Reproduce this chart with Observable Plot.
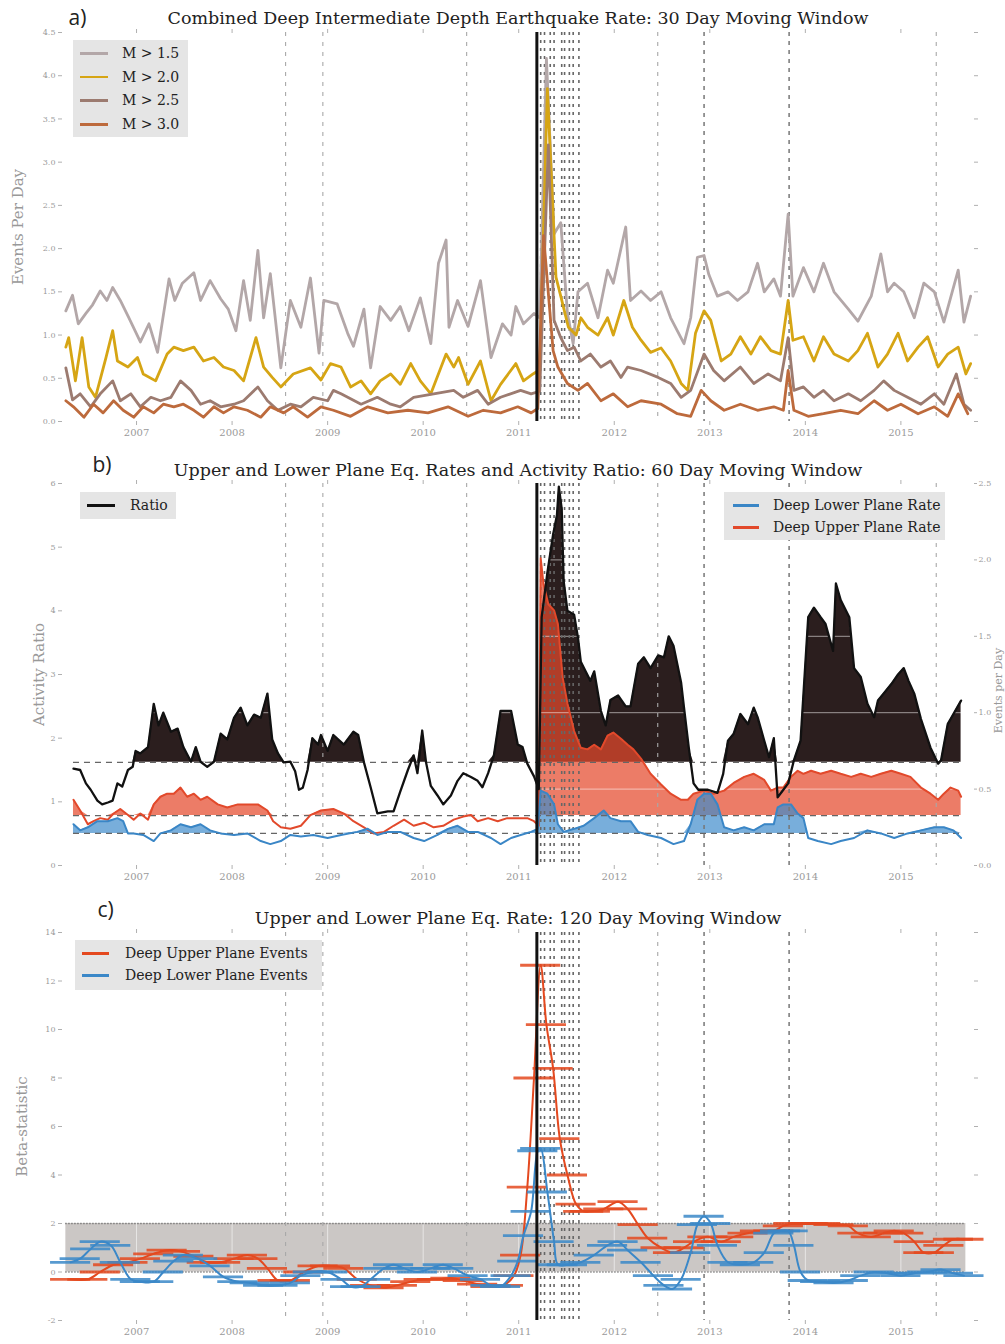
<!DOCTYPE html>
<html><head><meta charset="utf-8">
<script src="https://cdn.jsdelivr.net/npm/d3@7"></script>
<script src="https://cdn.jsdelivr.net/npm/@observablehq/plot@0.6"></script>
<style>
body{margin:0;background:#fff;}
#wrap{position:relative;width:1005px;height:1344px;overflow:hidden;}
.pnl{position:absolute;left:0;}
.legend{position:absolute;background:#e5e5e5;font-family:"DejaVu Serif",serif;font-size:14px;color:#222;z-index:5;}
.legend .row{position:absolute;left:0;height:20px;margin-top:-10px;width:100%;}
.legend .sw{position:absolute;top:9px;height:2.6px;}
.legend .tx{position:absolute;top:0px;white-space:nowrap;line-height:20px;}
</style></head>
<body><div id="wrap"></div>
<script>
// ---------- shared ----------
const xDomain = [2006.225, 2015.76];
const yearTicks = [2007, 2008, 2009, 2010, 2011, 2012, 2013, 2014, 2015];
const mainshock = [2011.19];
const lightEvents = [2008.56, 2008.95, 2010.455, 2012.455, 2015.37];
const darkEvents = [2012.94, 2013.83];
const clusterEvents = [2011.23, 2011.27, 2011.33, 2011.37, 2011.45, 2011.48, 2011.53, 2011.57, 2011.63];

// ---------- panel a: 30 day rates (events per day) ----------
const titleA = "Combined Deep Intermediate Depth Earthquake Rate: 30 Day Moving Window";
const m15 = [[2006.26,1.28],[2006.33,1.46],[2006.39,1.13],[2006.47,1.25],[2006.54,1.35],[2006.62,1.51],[2006.69,1.40],[2006.75,1.55],[2006.83,1.40],[2006.92,1.20],[2007.04,0.92],[2007.13,1.13],[2007.22,0.80],[2007.34,1.65],[2007.40,1.40],[2007.48,1.60],[2007.60,1.72],[2007.67,1.40],[2007.77,1.63],[2007.88,1.42],[2007.96,1.30],[2008.04,1.05],[2008.12,1.63],[2008.19,1.17],[2008.27,1.98],[2008.33,1.20],[2008.40,1.71],[2008.51,0.62],[2008.61,1.40],[2008.72,1.09],[2008.82,1.66],[2008.91,0.79],[2008.96,1.40],[2009.10,1.36],[2009.21,1.02],[2009.27,0.87],[2009.38,1.30],[2009.45,0.62],[2009.55,1.33],[2009.66,1.17],[2009.76,1.33],[2009.85,1.05],[2009.97,1.43],[2010.08,0.90],[2010.16,1.83],[2010.24,2.10],[2010.27,1.09],[2010.36,1.40],[2010.47,1.10],[2010.60,1.63],[2010.71,0.74],[2010.83,1.13],[2010.92,1.00],[2010.97,1.33],[2011.05,1.13],[2011.16,1.25],[2011.22,1.20],[2011.29,4.20],[2011.37,2.17],[2011.44,2.30],[2011.51,1.25],[2011.57,0.90],[2011.62,1.50],[2011.72,1.60],[2011.83,1.20],[2011.93,1.75],[2011.99,1.60],[2012.12,2.25],[2012.17,1.40],[2012.28,1.51],[2012.38,1.40],[2012.49,1.50],[2012.59,1.20],[2012.73,0.90],[2012.80,1.20],[2012.87,1.90],[2012.94,1.92],[2012.99,1.70],[2013.08,1.45],[2013.19,1.50],[2013.29,1.40],[2013.40,1.50],[2013.50,1.83],[2013.57,1.50],[2013.67,1.65],[2013.74,1.45],[2013.82,2.40],[2013.87,1.45],[2013.98,1.78],[2014.09,1.50],[2014.19,1.83],[2014.30,1.50],[2014.45,1.30],[2014.55,1.16],[2014.69,1.45],[2014.79,1.94],[2014.86,1.50],[2014.93,1.60],[2015.03,1.50],[2015.14,1.20],[2015.24,1.60],[2015.35,1.50],[2015.45,1.15],[2015.60,1.75],[2015.66,1.15],[2015.73,1.45]];
const m20 = [[2006.26,0.86],[2006.29,0.97],[2006.36,0.47],[2006.43,0.97],[2006.50,0.40],[2006.57,0.28],[2006.68,0.74],[2006.75,1.05],[2006.80,0.70],[2006.91,0.63],[2007.01,0.74],[2007.07,0.55],[2007.20,0.47],[2007.32,0.78],[2007.39,0.86],[2007.49,0.82],[2007.60,0.86],[2007.70,0.70],[2007.81,0.74],[2007.91,0.63],[2008.02,0.59],[2008.12,0.47],[2008.25,0.97],[2008.33,0.63],[2008.42,0.51],[2008.51,0.40],[2008.64,0.55],[2008.82,0.62],[2008.93,0.48],[2009.03,0.67],[2009.14,0.63],[2009.24,0.40],[2009.35,0.47],[2009.45,0.32],[2009.55,0.47],[2009.66,0.55],[2009.76,0.43],[2009.87,0.67],[2009.97,0.47],[2010.08,0.32],[2010.24,0.78],[2010.32,0.63],[2010.37,0.74],[2010.47,0.43],[2010.60,0.70],[2010.71,0.24],[2010.81,0.43],[2010.97,0.67],[2011.05,0.47],[2011.15,0.55],[2011.22,0.60],[2011.30,3.85],[2011.39,1.67],[2011.44,1.45],[2011.52,1.09],[2011.60,1.00],[2011.65,1.20],[2011.72,1.09],[2011.83,1.00],[2011.93,1.20],[2011.99,1.00],[2012.10,1.40],[2012.19,1.09],[2012.28,0.94],[2012.38,0.80],[2012.49,0.85],[2012.59,0.70],[2012.70,0.44],[2012.77,0.36],[2012.85,1.02],[2012.94,1.28],[2013.01,1.17],[2013.12,0.70],[2013.22,0.78],[2013.32,0.98],[2013.43,0.78],[2013.53,0.98],[2013.64,0.82],[2013.74,0.78],[2013.82,1.40],[2013.87,0.94],[2013.98,0.98],[2014.09,0.70],[2014.19,0.98],[2014.30,0.78],[2014.45,0.70],[2014.55,0.82],[2014.65,1.02],[2014.76,0.63],[2014.86,0.78],[2014.97,1.02],[2015.07,0.70],[2015.18,0.86],[2015.28,0.98],[2015.39,0.63],[2015.49,0.78],[2015.60,0.86],[2015.68,0.55],[2015.73,0.67]];
const m25 = [[2006.26,0.62],[2006.33,0.25],[2006.41,0.32],[2006.52,0.17],[2006.62,0.32],[2006.75,0.47],[2006.83,0.24],[2006.94,0.32],[2007.04,0.17],[2007.15,0.28],[2007.25,0.24],[2007.36,0.28],[2007.46,0.47],[2007.57,0.36],[2007.67,0.20],[2007.77,0.24],[2007.88,0.17],[2008.02,0.20],[2008.12,0.24],[2008.27,0.40],[2008.37,0.24],[2008.48,0.13],[2008.61,0.20],[2008.72,0.17],[2008.85,0.28],[2009.00,0.24],[2009.06,0.36],[2009.14,0.32],[2009.35,0.20],[2009.52,0.28],[2009.66,0.20],[2009.76,0.17],[2009.90,0.28],[2010.11,0.32],[2010.32,0.36],[2010.42,0.28],[2010.57,0.36],[2010.68,0.20],[2010.81,0.28],[2011.02,0.36],[2011.13,0.32],[2011.22,0.35],[2011.31,3.20],[2011.37,1.17],[2011.44,0.97],[2011.51,0.82],[2011.58,0.86],[2011.65,0.70],[2011.75,0.78],[2011.86,0.63],[2011.96,0.70],[2012.07,0.51],[2012.14,0.63],[2012.28,0.59],[2012.46,0.51],[2012.59,0.44],[2012.70,0.28],[2012.80,0.36],[2012.94,0.78],[2013.04,0.59],[2013.15,0.47],[2013.32,0.63],[2013.46,0.44],[2013.61,0.55],[2013.74,0.47],[2013.82,0.97],[2013.88,0.36],[2013.98,0.40],[2014.09,0.28],[2014.19,0.36],[2014.30,0.24],[2014.45,0.32],[2014.58,0.24],[2014.72,0.36],[2014.82,0.47],[2014.93,0.36],[2015.07,0.28],[2015.21,0.20],[2015.35,0.32],[2015.45,0.20],[2015.58,0.55],[2015.66,0.20],[2015.73,0.13]];
const m30 = [[2006.26,0.24],[2006.34,0.17],[2006.45,0.05],[2006.55,0.20],[2006.65,0.10],[2006.76,0.24],[2006.86,0.13],[2006.97,0.05],[2007.07,0.17],[2007.18,0.10],[2007.28,0.20],[2007.39,0.17],[2007.49,0.20],[2007.60,0.13],[2007.70,0.05],[2007.81,0.17],[2007.91,0.10],[2008.02,0.17],[2008.16,0.13],[2008.30,0.05],[2008.40,0.17],[2008.54,0.10],[2008.64,0.17],[2008.79,0.05],[2008.93,0.17],[2009.06,0.13],[2009.24,0.06],[2009.42,0.17],[2009.63,0.10],[2009.84,0.13],[2010.05,0.10],[2010.26,0.17],[2010.47,0.06],[2010.63,0.13],[2010.81,0.10],[2010.99,0.17],[2011.13,0.10],[2011.20,0.15],[2011.26,2.15],[2011.36,0.82],[2011.41,0.63],[2011.51,0.44],[2011.62,0.36],[2011.72,0.44],[2011.86,0.24],[2011.99,0.32],[2012.14,0.17],[2012.28,0.24],[2012.49,0.20],[2012.66,0.09],[2012.80,0.06],[2012.91,0.36],[2013.01,0.24],[2013.15,0.13],[2013.32,0.20],[2013.50,0.13],[2013.67,0.17],[2013.77,0.13],[2013.82,0.59],[2013.88,0.13],[2014.03,0.06],[2014.19,0.09],[2014.37,0.13],[2014.55,0.09],[2014.72,0.24],[2014.86,0.13],[2015.00,0.20],[2015.18,0.09],[2015.35,0.17],[2015.49,0.06],[2015.60,0.32],[2015.70,0.09]];
const magLabels = ["M > 1.5", "M > 2.0", "M > 2.5", "M > 3.0"];
const magColors = ["#b3a7a8", "#d6a514", "#9c7b70", "#bd6a3c"];

// ---------- panel b: 60 day ratio and plane rates ----------
const titleB = "Upper and Lower Plane Eq. Rates and Activity Ratio: 60 Day Moving Window";
const ratioBase = 1.62, upperBase = 0.327, lowerBase = 0.21;
const ratio = [[2006.34,1.52],[2006.41,1.50],[2006.47,1.29],[2006.52,1.19],[2006.59,1.02],[2006.64,0.96],[2006.70,0.99],[2006.75,1.02],[2006.80,1.29],[2006.85,1.24],[2006.91,1.50],[2006.96,1.55],[2006.99,1.80],[2007.04,1.76],[2007.12,1.86],[2007.18,2.54],[2007.23,2.20],[2007.28,2.40],[2007.36,2.10],[2007.43,2.15],[2007.49,1.86],[2007.57,1.63],[2007.62,1.86],[2007.67,1.63],[2007.74,1.55],[2007.81,1.63],[2007.88,2.07],[2007.95,1.98],[2008.02,2.32],[2008.09,2.48],[2008.16,2.20],[2008.23,2.37],[2008.30,2.32],[2008.37,2.70],[2008.42,1.98],[2008.48,1.76],[2008.54,1.62],[2008.61,1.63],[2008.66,1.48],[2008.70,1.19],[2008.74,1.22],[2008.79,1.50],[2008.84,2.00],[2008.90,1.90],[2008.93,2.05],[2009.00,1.80],[2009.06,2.05],[2009.17,1.90],[2009.27,2.10],[2009.32,2.05],[2009.38,1.62],[2009.45,1.23],[2009.52,0.82],[2009.63,0.85],[2009.69,0.85],[2009.76,1.16],[2009.84,1.50],[2009.90,1.73],[2009.94,1.45],[2009.99,2.12],[2010.03,1.62],[2010.08,1.25],[2010.15,1.10],[2010.21,0.96],[2010.29,1.10],[2010.36,1.33],[2010.42,1.45],[2010.50,1.39],[2010.57,1.33],[2010.62,1.23],[2010.68,1.45],[2010.74,1.73],[2010.81,2.43],[2010.92,2.43],[2010.99,1.90],[2011.04,1.86],[2011.09,1.60],[2011.16,1.40],[2011.21,1.20],[2011.24,3.90],[2011.30,4.60],[2011.36,5.20],[2011.40,5.50],[2011.42,5.95],[2011.45,5.60],[2011.47,4.47],[2011.51,4.00],[2011.58,3.94],[2011.62,3.58],[2011.65,3.20],[2011.70,3.05],[2011.75,2.90],[2011.79,3.05],[2011.86,2.43],[2011.91,2.20],[2011.96,2.60],[2012.04,2.67],[2012.12,2.50],[2012.17,2.50],[2012.25,3.17],[2012.31,3.27],[2012.38,3.10],[2012.46,3.30],[2012.52,3.27],[2012.57,3.60],[2012.62,3.45],[2012.70,2.87],[2012.73,2.48],[2012.78,1.85],[2012.83,1.29],[2012.88,1.19],[2012.98,1.19],[2013.08,1.14],[2013.14,1.44],[2013.19,1.96],[2013.25,2.07],[2013.32,2.38],[2013.40,2.22],[2013.46,2.48],[2013.50,2.33],[2013.57,1.96],[2013.62,1.70],[2013.67,2.00],[2013.71,1.07],[2013.76,1.17],[2013.82,1.29],[2013.88,1.65],[2013.95,1.96],[2014.03,3.90],[2014.09,4.05],[2014.16,3.90],[2014.21,3.80],[2014.29,3.37],[2014.32,4.43],[2014.37,4.17],[2014.46,3.90],[2014.51,3.10],[2014.58,2.96],[2014.65,2.54],[2014.72,2.33],[2014.76,2.59],[2014.82,2.70],[2014.90,2.85],[2014.97,3.00],[2015.03,3.10],[2015.08,2.90],[2015.14,2.70],[2015.21,2.30],[2015.31,1.85],[2015.39,1.60],[2015.42,1.65],[2015.49,2.22],[2015.55,2.38],[2015.63,2.59]];
const upperRate = [[2006.34,0.43],[2006.41,0.36],[2006.49,0.27],[2006.55,0.29],[2006.62,0.31],[2006.70,0.30],[2006.76,0.34],[2006.83,0.37],[2006.91,0.33],[2006.97,0.30],[2007.04,0.34],[2007.12,0.30],[2007.18,0.40],[2007.25,0.45],[2007.32,0.47],[2007.39,0.47],[2007.46,0.51],[2007.53,0.45],[2007.60,0.47],[2007.67,0.43],[2007.74,0.45],[2007.85,0.40],[2007.95,0.38],[2008.06,0.40],[2008.16,0.40],[2008.27,0.40],[2008.37,0.36],[2008.43,0.29],[2008.51,0.25],[2008.61,0.24],[2008.72,0.26],[2008.82,0.33],[2008.93,0.36],[2009.06,0.37],[2009.17,0.34],[2009.27,0.29],[2009.38,0.25],[2009.48,0.21],[2009.59,0.22],[2009.69,0.26],[2009.80,0.30],[2009.90,0.26],[2010.01,0.28],[2010.11,0.25],[2010.21,0.26],[2010.32,0.30],[2010.42,0.32],[2010.50,0.33],[2010.57,0.29],[2010.68,0.31],[2010.78,0.29],[2010.88,0.31],[2010.99,0.31],[2011.09,0.31],[2011.16,0.29],[2011.21,0.26],[2011.23,2.01],[2011.26,1.84],[2011.31,1.71],[2011.37,1.67],[2011.41,1.58],[2011.46,1.23],[2011.51,1.06],[2011.58,0.88],[2011.65,0.77],[2011.72,0.76],[2011.79,0.79],[2011.86,0.76],[2011.93,0.85],[2011.99,0.87],[2012.07,0.83],[2012.14,0.79],[2012.20,0.76],[2012.28,0.70],[2012.38,0.60],[2012.49,0.53],[2012.59,0.47],[2012.70,0.43],[2012.77,0.43],[2012.83,0.47],[2012.94,0.49],[2013.04,0.47],[2013.15,0.49],[2013.25,0.54],[2013.36,0.58],[2013.46,0.60],[2013.57,0.56],[2013.64,0.49],[2013.71,0.51],[2013.77,0.51],[2013.85,0.58],[2013.92,0.62],[2013.98,0.60],[2014.06,0.62],[2014.16,0.60],[2014.27,0.62],[2014.37,0.60],[2014.48,0.58],[2014.58,0.60],[2014.69,0.58],[2014.79,0.60],[2014.90,0.62],[2015.00,0.60],[2015.10,0.58],[2015.21,0.51],[2015.31,0.47],[2015.39,0.43],[2015.45,0.47],[2015.52,0.51],[2015.60,0.49],[2015.63,0.45]];
const lowerRate = [[2006.34,0.27],[2006.41,0.23],[2006.49,0.25],[2006.59,0.29],[2006.70,0.29],[2006.80,0.31],[2006.86,0.29],[2006.91,0.21],[2006.97,0.21],[2007.07,0.20],[2007.18,0.16],[2007.25,0.21],[2007.36,0.23],[2007.46,0.27],[2007.57,0.25],[2007.67,0.27],[2007.77,0.23],[2007.88,0.21],[2008.02,0.20],[2008.16,0.21],[2008.30,0.16],[2008.40,0.14],[2008.51,0.16],[2008.61,0.20],[2008.72,0.19],[2008.85,0.20],[2009.00,0.18],[2009.14,0.20],[2009.31,0.22],[2009.42,0.24],[2009.52,0.20],[2009.63,0.22],[2009.76,0.22],[2009.90,0.18],[2010.01,0.16],[2010.15,0.20],[2010.26,0.24],[2010.36,0.26],[2010.47,0.22],[2010.57,0.22],[2010.71,0.18],[2010.81,0.14],[2010.92,0.18],[2011.02,0.20],[2011.13,0.22],[2011.20,0.24],[2011.23,0.49],[2011.30,0.47],[2011.37,0.40],[2011.41,0.27],[2011.47,0.22],[2011.58,0.24],[2011.68,0.26],[2011.79,0.31],[2011.89,0.36],[2011.96,0.31],[2012.07,0.29],[2012.17,0.29],[2012.25,0.22],[2012.35,0.20],[2012.49,0.18],[2012.62,0.14],[2012.73,0.16],[2012.80,0.27],[2012.87,0.43],[2012.94,0.47],[2013.01,0.47],[2013.08,0.40],[2013.15,0.25],[2013.25,0.23],[2013.36,0.25],[2013.46,0.23],[2013.57,0.27],[2013.67,0.27],[2013.71,0.38],[2013.77,0.40],[2013.85,0.40],[2013.92,0.34],[2013.98,0.31],[2014.03,0.18],[2014.13,0.16],[2014.27,0.14],[2014.37,0.16],[2014.51,0.18],[2014.65,0.23],[2014.79,0.21],[2014.93,0.18],[2015.07,0.21],[2015.21,0.23],[2015.35,0.25],[2015.45,0.25],[2015.55,0.23],[2015.63,0.18]];
const leftTicksB = [0, 1, 2, 3, 4, 5, 6];
const rightTicksB = [0, 0.5, 1.0, 1.5, 2.0, 2.5];

// ---------- panel c: 120 day beta statistic ----------
const titleC = "Upper and Lower Plane Eq. Rate: 120 Day Moving Window";
const betaUpper = [[2006.31,-0.30],[2006.49,-0.30],[2006.62,0.00],[2006.76,0.30],[2006.91,0.40],[2007.04,0.55],[2007.18,0.75],[2007.32,0.90],[2007.46,0.85],[2007.60,0.65],[2007.74,0.40],[2007.88,0.40],[2008.02,0.55],[2008.16,0.70],[2008.27,0.55],[2008.37,0.15],[2008.48,-0.35],[2008.61,-0.35],[2008.75,0.00],[2008.90,0.25],[2009.03,0.25],[2009.17,0.15],[2009.31,-0.30],[2009.45,-0.55],[2009.59,-0.65],[2009.73,-0.55],[2009.87,-0.40],[2010.01,-0.30],[2010.15,-0.30],[2010.29,-0.25],[2010.42,-0.35],[2010.57,-0.50],[2010.71,-0.60],[2010.84,-0.55],[2010.95,-0.15],[2011.02,0.70],[2011.09,3.50],[2011.16,8.00],[2011.23,12.65],[2011.29,10.20],[2011.36,8.40],[2011.43,5.50],[2011.51,4.00],[2011.60,2.80],[2011.68,2.50],[2011.75,2.50],[2011.89,2.60],[2012.04,2.90],[2012.14,2.60],[2012.25,1.95],[2012.35,1.40],[2012.49,1.00],[2012.62,0.80],[2012.73,1.00],[2012.83,1.25],[2012.98,1.45],[2013.12,1.25],[2013.25,1.45],[2013.40,1.60],[2013.53,1.70],[2013.67,1.70],[2013.77,1.90],[2013.88,2.00],[2014.03,2.00],[2014.16,2.00],[2014.30,1.95],[2014.45,1.90],[2014.55,1.60],[2014.69,1.45],[2014.82,1.60],[2014.93,1.70],[2015.03,1.60],[2015.14,1.25],[2015.24,0.80],[2015.35,0.80],[2015.45,1.10],[2015.55,1.35],[2015.66,1.35]];
const betaLower = [[2006.31,0.40],[2006.41,0.55],[2006.52,0.95],[2006.62,1.25],[2006.73,1.10],[2006.83,0.40],[2006.94,-0.30],[2007.04,-0.40],[2007.18,-0.40],[2007.28,0.00],[2007.39,0.45],[2007.49,0.70],[2007.64,0.55],[2007.77,0.25],[2007.91,-0.20],[2008.06,-0.40],[2008.19,-0.45],[2008.33,-0.55],[2008.48,-0.55],[2008.61,-0.45],[2008.72,-0.15],[2008.85,0.00],[2009.00,0.00],[2009.14,-0.30],[2009.24,-0.60],[2009.35,-0.60],[2009.45,-0.30],[2009.59,0.15],[2009.69,0.30],[2009.80,0.15],[2009.94,0.00],[2010.08,0.15],[2010.21,0.30],[2010.32,0.15],[2010.47,-0.15],[2010.60,-0.30],[2010.71,-0.55],[2010.81,-0.60],[2010.92,-0.15],[2010.99,0.45],[2011.05,1.50],[2011.13,2.50],[2011.20,5.00],[2011.23,5.10],[2011.30,3.30],[2011.37,1.25],[2011.41,0.30],[2011.51,0.30],[2011.65,0.40],[2011.79,0.70],[2011.93,1.10],[2012.04,1.25],[2012.14,0.90],[2012.28,0.40],[2012.41,-0.15],[2012.52,-0.55],[2012.61,-0.70],[2012.70,-0.30],[2012.80,0.80],[2012.87,1.95],[2012.94,2.30],[2013.01,2.00],[2013.08,1.10],[2013.19,0.40],[2013.32,0.30],[2013.46,0.40],[2013.57,0.80],[2013.67,1.60],[2013.74,1.70],[2013.82,1.70],[2013.88,1.10],[2013.95,0.00],[2014.03,-0.35],[2014.16,-0.40],[2014.30,-0.45],[2014.45,-0.35],[2014.58,-0.15],[2014.72,0.00],[2014.86,-0.05],[2015.00,-0.15],[2015.14,-0.05],[2015.28,0.00],[2015.42,0.10],[2015.55,-0.05],[2015.66,-0.15]];
const betaBand = [0, 2];
const betaTicks = [-2, 0, 2, 4, 6, 8, 10, 12, 14];
const windowHalf = 0.21; // half width of each window bar, in years

// ---------- helpers ----------
const W = 1005, ML = 62, MR = 32;
const tickStyle = {tickSize: 4, tickPadding: 3, fontSize: 8, fill: "#9a9a9a", stroke: "#b0b0b0"};
function eventMarks() {
  return [
    Plot.ruleX(lightEvents, {stroke: "#a8a8a8", strokeWidth: 1.1, strokeDasharray: "4,6"}),
    Plot.ruleX(darkEvents, {stroke: "#777", strokeWidth: 1.5, strokeDasharray: "4,5"}),
    Plot.ruleX(clusterEvents, {stroke: "#666", strokeWidth: 1.6, strokeDasharray: "3,5"})
  ];
}
function xAxes() {
  return [
    Plot.axisX({ticks: yearTicks, tickFormat: d => String(d), ...tickStyle, fontSize: 10, label: null}),
    Plot.axisX({anchor: "top", ticks: yearTicks, tickFormat: () => "", ...tickStyle, label: null})
  ];
}
function titleMarks(title, tag, tagDx, tagDy, titleDy) {
  return [
    Plot.text([title], {frameAnchor: "top", lineAnchor: "middle", dy: titleDy, fontSize: 17.5, fontFamily: "DejaVu Serif", fill: "#222"}),
    Plot.text([tag], {frameAnchor: "top-left", lineAnchor: "middle", dx: tagDx, dy: tagDy, fontSize: 21, fontFamily: "Open Sans", fill: "#222", textAnchor: "start"})
  ];
}
function yLabel(text, dx, dy = 0, size = 15) {
  return Plot.text([text], {frameAnchor: dx < 0 ? "left" : "right", textAnchor: "middle", lineAnchor: "middle", dx, dy, rotate: -90, fontSize: size, fontFamily: "DejaVu Serif", fill: "#999"});
}
const baseStyle = {fontFamily: "DejaVu Serif", background: "transparent", overflow: "visible"};
const X = d => d[0], Y = d => d[1];

// ---------- panel a ----------
const seriesA = [m15, m20, m25, m30];
const plotA = Plot.plot({
  width: W, height: 445, marginTop: 32, marginBottom: 24, marginLeft: ML, marginRight: MR,
  style: baseStyle,
  x: {domain: xDomain}, y: {domain: [0, 4.5]},
  marks: [
    ...eventMarks(),
    ...seriesA.map((s, i) => Plot.line(s, {x: X, y: Y, stroke: magColors[i], strokeWidth: 2.8, strokeLinejoin: "round"})),
    Plot.ruleX(mainshock, {stroke: "#111", strokeWidth: 3}),
    ...xAxes(),
    Plot.axisY({ticks: d3.range(0, 4.51, 0.5), tickFormat: d => d.toFixed(1), ...tickStyle, label: null}),
    Plot.axisY({anchor: "right", ticks: d3.range(0, 4.51, 0.5), tickFormat: () => "", ...tickStyle, label: null}),
    yLabel("Events Per Day", -44),
    ...titleMarks(titleA, "a)", 6, -14, -14)
  ]
});

// ---------- panel b ----------
const k = 6 / 2.5; // right axis (events per day) mapped onto the left axis scale
const plotB = Plot.plot({
  width: W, height: 445, marginTop: 38, marginBottom: 25, marginLeft: ML, marginRight: MR,
  style: baseStyle,
  x: {domain: xDomain}, y: {domain: [0, 6]},
  marks: [
    Plot.areaY(ratio, {x: X, y1: ratioBase, y2: d => Math.max(d[1], ratioBase), fill: "#2b1e1e"}),
    Plot.areaY(upperRate, {x: X, y1: upperBase * k, y2: d => Math.max(d[1], upperBase) * k, fill: "#e44a2c", fillOpacity: 0.72}),
    Plot.areaY(lowerRate, {x: X, y1: lowerBase * k, y2: d => Math.max(d[1], lowerBase) * k, fill: "#3f8ccc", fillOpacity: 0.7}),
    Plot.ruleY(rightTicksB.slice(1).map(v => v * k), {stroke: "#fff", strokeOpacity: 0.55, strokeWidth: 1}),
    ...eventMarks(),
    Plot.ruleY([ratioBase, upperBase * k, lowerBase * k], {x1: ratio[0][0], x2: ratio[ratio.length - 1][0], stroke: "#666", strokeWidth: 1.3, strokeDasharray: "6,5"}),
    Plot.line(upperRate, {x: X, y: d => d[1] * k, stroke: "#e2492b", strokeWidth: 2}),
    Plot.line(lowerRate, {x: X, y: d => d[1] * k, stroke: "#3a86c6", strokeWidth: 2}),
    Plot.line(ratio, {x: X, y: Y, stroke: "#111", strokeWidth: 2.3}),
    Plot.ruleX(mainshock, {stroke: "#111", strokeWidth: 3}),
    ...xAxes(),
    Plot.axisY({ticks: leftTicksB, tickFormat: d => String(d), ...tickStyle, label: null}),
    Plot.axisY({anchor: "right", ticks: rightTicksB.map(v => v * k), tickFormat: d => (d / k).toFixed(1), ...tickStyle, tickSize: 3, tickPadding: 2, label: null}),
    yLabel("Activity Ratio", -23),
    yLabel("Events per Day", 25, 16, 11),
    ...titleMarks(titleB, "b)", 30, -18, -13)
  ]
});

// ---------- panel c ----------
const plotC = Plot.plot({
  width: W, height: 454, marginTop: 42, marginBottom: 24, marginLeft: ML, marginRight: MR,
  style: baseStyle,
  x: {domain: xDomain}, y: {domain: [-2, 14]},
  marks: [
    Plot.rect([betaBand], {x1: betaUpper[0][0] - 0.05, x2: betaUpper[betaUpper.length - 1][0] + 0.02, y1: d => d[0], y2: d => d[1], fill: "#cbc7c5"}),
    Plot.ruleX(yearTicks, {y1: betaBand[0], y2: betaBand[1], stroke: "#fff", strokeOpacity: 0.55}),
    Plot.ruleY(betaBand, {x1: betaUpper[0][0] - 0.05, x2: betaUpper[betaUpper.length - 1][0] + 0.02, stroke: "#6a6a6a", strokeWidth: 1.6, strokeDasharray: "1.2,1.8"}),
    ...eventMarks(),
    Plot.ruleY(betaUpper, {y: Y, x1: d => d[0] - windowHalf, x2: d => d[0] + windowHalf, stroke: "#e4491f", strokeWidth: 2.8, strokeOpacity: 0.85}),
    Plot.line(betaUpper, {x: X, y: Y, stroke: "#e4491f", strokeWidth: 2, curve: "catmull-rom"}),
    Plot.ruleY(betaLower, {y: Y, x1: d => d[0] - windowHalf, x2: d => d[0] + windowHalf, stroke: "#3b88c8", strokeWidth: 2.8, strokeOpacity: 0.85}),
    Plot.line(betaLower, {x: X, y: Y, stroke: "#3b88c8", strokeWidth: 2, curve: "catmull-rom"}),
    Plot.ruleX(mainshock, {stroke: "#111", strokeWidth: 3}),
    ...xAxes(),
    Plot.axisY({ticks: betaTicks, tickFormat: d => String(d), ...tickStyle, label: null}),
    Plot.axisY({anchor: "right", ticks: betaTicks, tickFormat: () => "", ...tickStyle, label: null}),
    yLabel("Beta-statistic", -40),
    ...titleMarks(titleC, "c)", 35, -22, -14)
  ]
});

// ---------- assemble ----------
const wrap = document.getElementById("wrap");
[[plotA, 0], [plotB, 445], [plotC, 890]].forEach(([p, top]) => {
  const d = document.createElement("div");
  d.className = "pnl"; d.style.top = top + "px";
  d.appendChild(p); wrap.appendChild(d);
});
function legend(left, top, width, height, entries, swLeft, swWidth, txLeft) {
  const box = document.createElement("div");
  box.className = "legend";
  Object.assign(box.style, {left: left + "px", top: top + "px", width: width + "px", height: height + "px"});
  entries.forEach(([label, color, cy]) => {
    const row = document.createElement("div");
    row.className = "row"; row.style.top = cy + "px";
    const sw = document.createElement("span");
    sw.className = "sw"; Object.assign(sw.style, {left: swLeft + "px", width: swWidth + "px", background: color});
    const tx = document.createElement("span");
    tx.className = "tx"; tx.style.left = txLeft + "px"; tx.textContent = label;
    row.appendChild(sw); row.appendChild(tx); box.appendChild(row);
  });
  wrap.appendChild(box);
}
legend(73, 40, 115, 97, magLabels.map((l, i) => [l, magColors[i], 13 + i * 23.7]), 7, 28, 49);
legend(80, 492, 96, 27, [["Ratio", "#111", 13]], 7, 28, 50);
legend(724, 492, 221, 48, [["Deep Lower Plane Rate", "#3a86c6", 13], ["Deep Upper Plane Rate", "#e2492b", 35]], 9, 26, 49);
legend(75, 940, 247, 50, [["Deep Upper Plane Events", "#e4491f", 13], ["Deep Lower Plane Events", "#3b88c8", 35]], 7, 27, 50);
</script>
</body></html>
